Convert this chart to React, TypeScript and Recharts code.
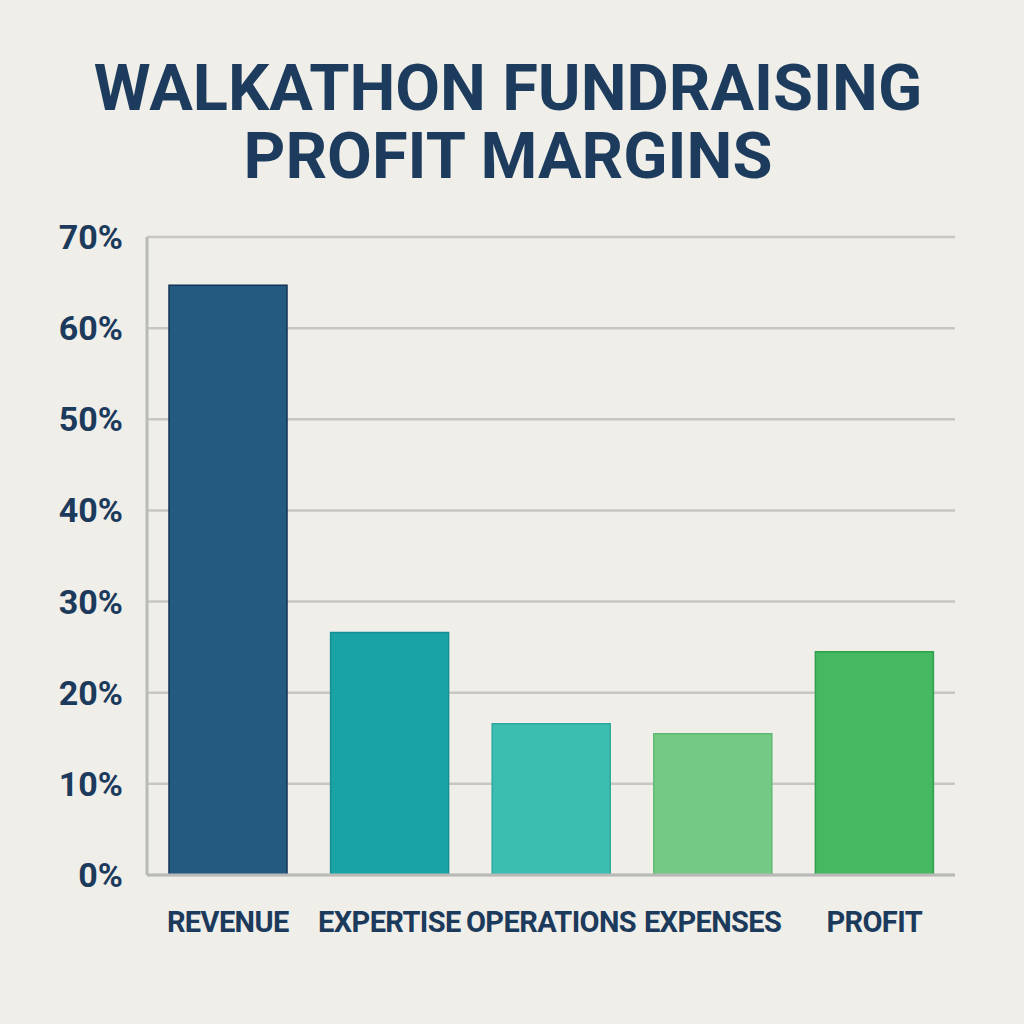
import React from 'react';
import { BarChart, Bar, XAxis, YAxis, CartesianGrid, Cell } from 'recharts';

const categories = ['REVENUE', 'EXPERTISE', 'OPERATIONS', 'EXPENSES', 'PROFIT'];
const margins = [64.7, 26.6, 16.6, 15.5, 24.5];
const barFills = ['#245a80', '#1aa3a6', '#3bbdb0', '#72ca84', '#46b862'];
const barEdges = ['#103458', '#148f92', '#2ca99c', '#5fba71', '#2f9f4a'];
const yTicks = [0, 10, 20, 30, 40, 50, 60, 70];
const titleLines = ['WALKATHON FUNDRAISING', 'PROFIT MARGINS'];

const NAVY = '#1c3a5b';
const FONT = 'Roboto, "Noto Sans", sans-serif';

export default function App() {
  const data = categories.map((name, i) => ({ name, value: margins[i] }));
  return (
    <div style={{ position: 'absolute', left: 0, top: 0, width: 1024, height: 1024, background: '#efeee9' }}>
      <svg width={1024} height={200} style={{ position: 'absolute', left: 0, top: 0 }}>
        {titleLines.map((line, i) => (
          <text
            key={line}
            x={508}
            y={110 + i * 68}
            textAnchor="middle"
            fontFamily={FONT}
            fontWeight={700}
            fontSize={65}
            fill="#1d3c5d"
          >
            {line}
          </text>
        ))}
      </svg>
      <div style={{ position: 'absolute', left: 0, top: 0 }}>
        <BarChart width={1024} height={1024} data={data} margin={{ top: 237, right: 69, left: 0, bottom: 49 }}>
          <CartesianGrid vertical={false} stroke="#c6c6c3" strokeWidth={2.5} />
          <XAxis
            dataKey="name"
            height={100}
            tickSize={0}
            tickMargin={36}
            axisLine={{ stroke: '#b9b9b7', strokeWidth: 3 }}
            tick={{ fill: NAVY, fontFamily: FONT, fontWeight: 700, fontSize: 29, letterSpacing: -0.6 }}
            interval={0}
          />
          <YAxis
            width={147}
            domain={[0, 70]}
            ticks={yTicks}
            tickFormatter={(v) => `${v}%`}
            tickSize={0}
            tickMargin={24}
            axisLine={{ stroke: '#b9b9b7', strokeWidth: 3 }}
            tick={{ fill: NAVY, fontFamily: FONT, fontWeight: 700, fontSize: 34 }}
          />
          <Bar dataKey="value" barSize={118} isAnimationActive={false}>
            {data.map((d, i) => (
              <Cell key={d.name} fill={barFills[i]} stroke={barEdges[i]} strokeWidth={1.5} />
            ))}
          </Bar>
        </BarChart>
      </div>
    </div>
  );
}
